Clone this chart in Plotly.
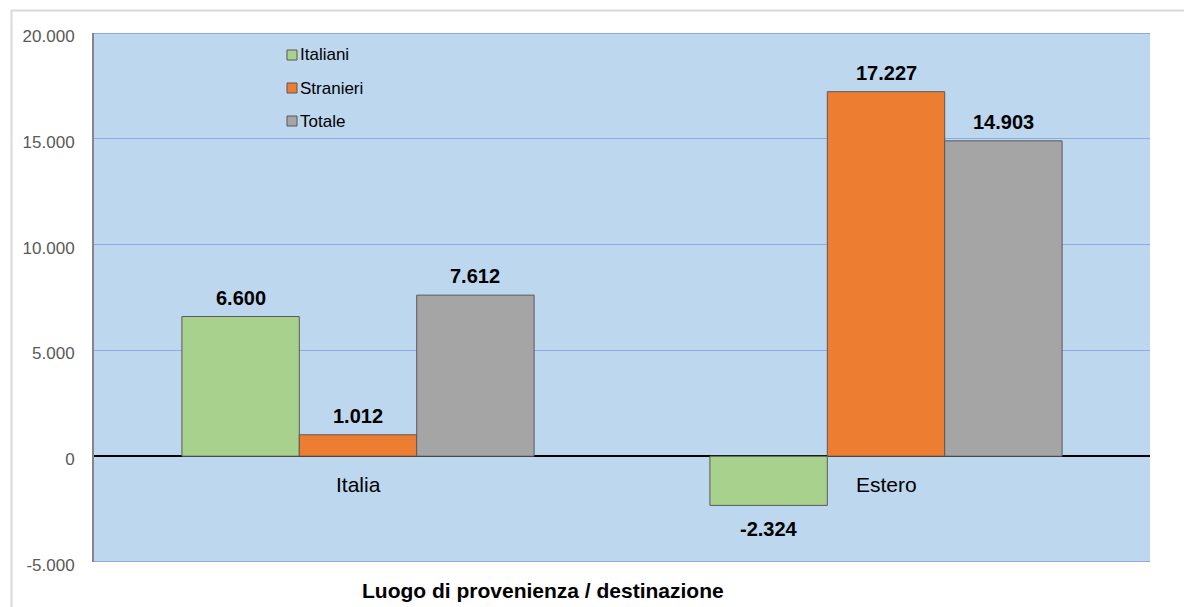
import plotly.graph_objects as go

categories = ["Italia", "Estero"]
series_names = ["Italiani", "Stranieri", "Totale"]
italiani = [6600, -2324]
stranieri = [1012, 17227]
totale = [7612, 14903]
tick_vals = [-5000, 0, 5000, 10000, 15000, 20000]
tick_text = ["-5.000", "0", "5.000", "10.000", "15.000", "20.000"]
x_title = "Luogo di provenienza / destinazione"

colors = ["#A9D18E", "#ED7D31", "#A5A5A5"]
FONT = "Liberation Sans, Arial"

def fmt(v):
    s = f"{abs(v):,}".replace(",", ".")
    return ("-" if v < 0 else "") + s

W, H = 1184, 607
L, R, T, B = 94, 34, 33, 45
PW, PH = W - L - R, H - T - B
BARGAP = 0.333
BAR_PX = PW / len(categories) * (1 - BARGAP) / len(series_names)

def px(x):
    return (x - L) / PW

def py(y):
    return (H - B - y) / PH

fig = go.Figure()
annotations = []
all_series = [italiani, stranieri, totale]
for i, (name, vals, col) in enumerate(zip(series_names, all_series, colors)):
    fig.add_trace(go.Bar(
        x=categories, y=vals, name=name,
        marker=dict(color=col, line=dict(color="#595959", width=1)),
    ))
    for c, v in zip(categories, vals):
        annotations.append(dict(x=c, y=v, xref="x", yref="y", text="<b>" + fmt(v) + "</b>",
                                showarrow=False, xanchor="center", yanchor="middle",
                                xshift=(i - 1) * BAR_PX, yshift=19 if v >= 0 else -24,
                                font=dict(family=FONT, size=20, color="black")))

for c in categories:
    annotations.append(dict(x=c, y=0, xref="x", yref="y", text=c, showarrow=False,
                            yanchor="middle", yshift=-28, font=dict(family=FONT, size=21, color="black")))
annotations.append(dict(x=px(543), y=py(590), xref="paper", yref="paper", text="<b>" + x_title + "</b>",
                        showarrow=False, yanchor="middle", font=dict(family=FONT, size=21, color="black")))

shapes = [dict(type="rect", xref="paper", yref="paper", x0=px(11.5), x1=px(1200), y0=py(640), y1=py(10.5),
               line=dict(color="#D9D9D9", width=2), fillcolor="rgba(0,0,0,0)", layer="below"),
          dict(type="line", xref="paper", yref="y", x0=0, x1=1, y0=20000, y1=20000,
               line=dict(color="#8EA9DB", width=2)),
          dict(type="line", xref="paper", yref="y", x0=0, x1=1, y0=-5000, y1=-5000,
               line=dict(color="#8EA9DB", width=2))]
leg_y = [55, 88, 121]
for name, col, yy in zip(series_names, colors, leg_y):
    shapes.append(dict(type="rect", xref="paper", yref="paper", x0=px(287), x1=px(297), y0=py(yy + 5), y1=py(yy - 5),
                       line=dict(color="#595959", width=1), fillcolor=col))
    annotations.append(dict(x=px(298), y=py(yy), xref="paper", yref="paper", text=name, showarrow=False,
                            xanchor="left", yanchor="middle",
                            font=dict(family=FONT, size=17, color="black")))

fig.update_layout(
    width=W, height=H,
    margin=dict(l=L, r=R, t=T, b=B),
    paper_bgcolor="white", plot_bgcolor="#BDD7EE",
    barmode="group", bargap=BARGAP, bargroupgap=0,
    showlegend=False,
    annotations=annotations, shapes=shapes,
    xaxis=dict(showticklabels=False, showgrid=False, showline=False, zeroline=False, ticks=""),
    yaxis=dict(range=[-5000, 20000], tickvals=tick_vals, ticktext=tick_text,
               showgrid=True, gridcolor="#8EA9DB", gridwidth=1,
               zeroline=True, zerolinecolor="black", zerolinewidth=2,
               showline=True, linecolor="#868686", linewidth=2,
               ticks="", ticklabelstandoff=14, ticklabelshift=3,
               tickfont=dict(family=FONT, size=17, color="#595959")),
)
fig.write_html("out.html")
